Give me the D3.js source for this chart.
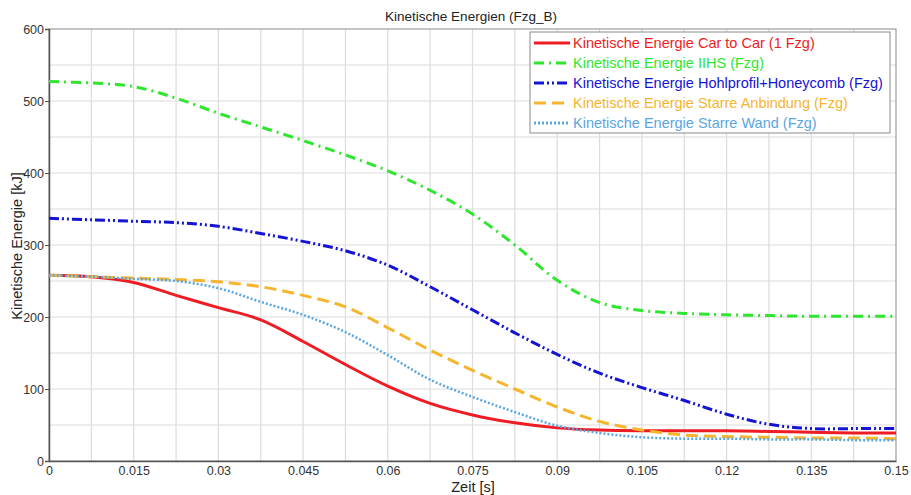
<!DOCTYPE html>
<html>
<head>
<meta charset="utf-8">
<script src="https://cdn.jsdelivr.net/npm/d3@7"></script>
<style>
  body { margin: 0; background: #fff; }
  text { font-family: "Liberation Sans", Arial, sans-serif; }
</style>
</head>
<body>
<svg id="chart" width="911" height="495"></svg>
<script>
// time samples (s), every 0.0075
var zeit = [0, 0.0075, 0.015, 0.0225, 0.03, 0.0375, 0.045, 0.0525, 0.06, 0.0675, 0.075,
            0.0825, 0.09, 0.0975, 0.105, 0.1125, 0.12, 0.1275, 0.135, 0.1425, 0.15];

// kinetic energies in kJ
var carToCar  = [258, 256, 248, 230, 213, 196, 166, 134, 104, 80, 64, 53, 46, 43, 42, 42, 42, 41, 40, 39, 39];
var iihs      = [527, 525, 520, 504, 483, 464, 445, 425, 403, 376, 343, 300, 251, 220, 209, 205, 203, 202, 201, 201, 201];
var hohlprof  = [337, 335, 333, 331, 326, 316, 305, 292, 272, 242, 210, 178, 148, 122, 102, 84, 65, 51, 45, 45, 45];
var anbindung = [258, 256, 254, 252, 249, 242, 230, 214, 185, 154, 126, 100, 75, 55, 43, 36, 34, 33, 32, 32, 31];
var wand      = [258, 256, 253, 250, 240, 221, 203, 179, 147, 113, 89, 68, 49, 39, 33, 31, 31, 30, 30, 29, 29];

var xTicks = [0, 0.015, 0.03, 0.045, 0.06, 0.075, 0.09, 0.105, 0.12, 0.135, 0.15];
var yTicks = [0, 100, 200, 300, 400, 500, 600];

var series = [
  {name: "Kinetische Energie Car to Car (1 Fzg)", values: carToCar, color: "#ee1c24", dash: null},
  {name: "Kinetische Energie IIHS (Fzg)", values: iihs, color: "#2ee62e", dash: "10,5,2,5"},
  {name: "Kinetische Energie Hohlprofil+Honeycomb (Fzg)", values: hohlprof, color: "#1414d2", dash: "10,3,2,3,2,3"},
  {name: "Kinetische Energie Starre Anbindung (Fzg)", values: anbindung, color: "#f5b52e", dash: "12,6"},
  {name: "Kinetische Energie Starre Wand (Fzg)", values: wand, color: "#5aa6e0", dash: "2,2"}
];

var svg = d3.select("#chart");
var pLeft = 49, pRight = 896, pTop = 29, pBottom = 461;

var x = d3.scaleLinear().domain([0, 0.15]).range([pLeft, pRight]);
var y = d3.scaleLinear().domain([0, 600]).range([pBottom, pTop]);

// grid (minor every 0.0075 / 50)
var g = svg.append("g");
g.selectAll(".vg").data(d3.range(1, 20).map(function(i){ return i * 0.0075; }))
  .enter().append("line")
  .attr("x1", function(d){ return x(d); }).attr("x2", function(d){ return x(d); })
  .attr("y1", pTop).attr("y2", pBottom)
  .attr("stroke", "#dcdcdc").attr("stroke-width", 1.2);
g.selectAll(".hg").data(d3.range(1, 12).map(function(i){ return i * 50; }))
  .enter().append("line")
  .attr("y1", function(d){ return y(d); }).attr("y2", function(d){ return y(d); })
  .attr("x1", pLeft).attr("x2", pRight)
  .attr("stroke", "#dcdcdc").attr("stroke-width", 1.2);

// frame
svg.append("rect").attr("x", pLeft).attr("y", pTop)
  .attr("width", pRight - pLeft).attr("height", pBottom - pTop)
  .attr("fill", "none").attr("stroke", "#8a8a8a").attr("stroke-width", 1);

// axes
var xAxis = d3.axisBottom(x).tickValues(xTicks).tickSize(0).tickPadding(5)
  .tickFormat(function(d){ return d === 0 ? "0" : String(+d.toFixed(4)); });
var xa = svg.append("g").attr("transform", "translate(0," + pBottom + ")").call(xAxis);
var yAxis = d3.axisLeft(y).tickValues(yTicks).tickSize(4).tickPadding(1);
var ya = svg.append("g").attr("transform", "translate(" + pLeft + ",0)").call(yAxis);

[xa, ya].forEach(function(a){
  a.select(".domain").attr("stroke", "#555").attr("stroke-width", 1.5);
  a.selectAll(".tick line").attr("stroke", "#555");
  a.selectAll("text").attr("fill", "#333").style("font-size", "12.5px");
});

// lines
var line = d3.line()
  .x(function(d, i){ return x(zeit[i]); })
  .y(function(d){ return y(d); })
  .curve(d3.curveCatmullRom.alpha(0.5));

var plot = svg.append("g");
series.forEach(function(s){
  plot.append("path")
    .attr("d", line(s.values))
    .attr("fill", "none")
    .attr("stroke", s.color)
    .attr("stroke-width", s.dash === "2,2" ? 2.5 : 3)
    .attr("stroke-dasharray", s.dash);
});

// titles
svg.append("text").attr("x", 471).attr("y", 21).attr("text-anchor", "middle")
  .attr("fill", "#222").style("font-size", "13.5px").text("Kinetische Energien (Fzg_B)");
svg.append("text").attr("x", 473).attr("y", 492).attr("text-anchor", "middle")
  .attr("fill", "#222").style("font-size", "14.5px").text("Zeit [s]");
svg.append("text").attr("transform", "translate(22,246) rotate(-90)").attr("text-anchor", "middle")
  .attr("fill", "#222").style("font-size", "14.5px").text("Kinetische Energie [kJ]");

// legend
var leg = svg.append("g").attr("transform", "translate(530,32)");
leg.append("rect").attr("width", 360).attr("height", 101)
  .attr("fill", "#fff").attr("stroke", "#8a8a8a");
series.forEach(function(s, i){
  var yy = 11 + i * 20;
  leg.append("line").attr("x1", 4).attr("x2", 40).attr("y1", yy).attr("y2", yy)
    .attr("stroke", s.color).attr("stroke-width", 3).attr("stroke-dasharray", s.dash);
  leg.append("text").attr("x", 43).attr("y", yy + 5).attr("fill", s.color)
    .style("font-size", "14.5px").text(s.name);
});
</script>
</body>
</html>
